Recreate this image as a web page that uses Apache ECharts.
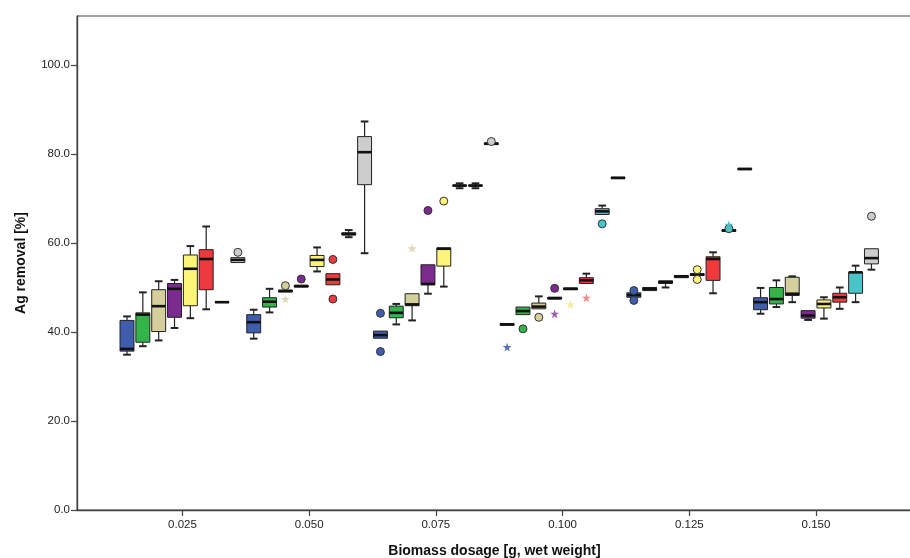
<!DOCTYPE html>
<html>
<head>
<meta charset="utf-8">
<style>
  html, body { margin: 0; padding: 0; background: #fff; }
  #chart { width: 910px; height: 558px; }
</style>
<script src="https://cdn.jsdelivr.net/npm/echarts@6/dist/echarts.min.js"></script>
</head>
<body>
<div id="chart"></div>
<script>
const dosages = [0.025, 0.05, 0.075, 0.1, 0.125, 0.15];
const xTickLabels = ['0.025', '0.050', '0.075', '0.100', '0.125', '0.150'];
const yTicks = [0, 20, 40, 60, 80, 100];

// five-number summaries per dosage: [lower whisker, Q1, median, Q3, upper whisker]
const boxBlue = [
  [34.9, 35.7, 36.2, 42.6, 43.5],
  [38.5, 39.8, 42.2, 43.9, 45.0],
  [38.5, 38.6, 39.3, 40.2, 40.2],
  [41.5, 41.5, 41.7, 41.9, 41.9],
  [47.8, 47.8, 48.3, 48.8, 48.8],
  [44.1, 45.0, 46.7, 47.7, 49.9]
];
const boxGreen = [
  [36.8, 37.7, 43.9, 44.3, 48.9],
  [44.4, 45.6, 46.8, 47.7, 49.7],
  [41.7, 43.2, 44.3, 45.8, 46.3],
  [43.9, 43.9, 44.7, 45.6, 45.6],
  [49.3, 49.3, 49.7, 50.0, 50.0],
  [45.6, 46.3, 47.4, 50.0, 51.6]
];
const boxTan = [
  [38.1, 40.1, 45.8, 49.5, 51.4],
  [49.0, 49.0, 49.2, 49.4, 49.4],
  [42.6, 45.9, 46.2, 48.6, 48.6],
  [45.2, 45.2, 45.7, 46.5, 48.0],
  [50.0, 50.9, 51.2, 51.5, 51.5],
  [46.7, 48.2, 48.6, 52.3, 52.5]
];
const boxPurple = [
  [40.9, 43.3, 49.7, 50.9, 51.7],
  [50.1, 50.1, 50.3, 50.5, 50.5],
  [48.6, 50.6, 50.8, 55.1, 55.1],
  [47.4, 47.4, 47.6, 47.8, 47.8],
  [52.2, 52.2, 52.5, 52.7, 52.7],
  [42.7, 43.1, 43.7, 44.8, 44.8]
];
const boxYellow = [
  [43.1, 45.9, 54.2, 57.3, 59.3],
  [53.6, 54.7, 56.2, 57.2, 59.0],
  [50.2, 54.8, 58.7, 58.9, 58.9],
  [49.5, 49.5, 49.7, 49.9, 49.9],
  [52.7, 52.7, 52.9, 53.1, 53.1],
  [43.0, 45.4, 46.3, 47.2, 47.8]
];
const boxRed = [
  [45.1, 49.5, 56.4, 58.5, 63.7],
  [50.6, 50.6, 51.8, 53.1, 53.1],
  [72.3, 72.8, 72.9, 73.0, 73.4],
  [50.9, 50.9, 51.6, 52.2, 53.1],
  [48.7, 51.6, 56.4, 56.9, 57.9],
  [45.2, 46.7, 47.8, 48.7, 50.0]
];
const boxCyan = [
  [46.6, 46.6, 46.7, 46.8, 46.8],
  [61.3, 61.8, 62.0, 62.3, 62.9],
  [72.3, 72.8, 72.9, 73.0, 73.4],
  [66.4, 66.4, 67.1, 67.7, 68.4],
  [62.6, 62.6, 62.8, 63.0, 63.0],
  [46.7, 48.7, 53.4, 53.4, 54.9]
];
const boxGray = [
  [55.6, 55.6, 56.2, 56.7, 56.7],
  [57.7, 73.1, 80.4, 83.9, 87.3],
  [82.1, 82.1, 82.3, 82.5, 82.5],
  [74.5, 74.5, 74.6, 74.8, 74.8],
  [76.5, 76.5, 76.6, 76.8, 76.8],
  [54.0, 55.3, 56.6, 58.7, 58.7]
];

// outliers: [dosage index, cluster index, value]
const outlierCircles = [
  [0, 7, 57.9],
  [1, 2, 50.4], [1, 3, 51.9], [1, 5, 56.3], [1, 5, 47.4],
  [2, 0, 44.2], [2, 0, 35.6], [2, 3, 67.3], [2, 4, 69.4], [2, 7, 82.8],
  [3, 1, 40.7], [3, 2, 43.3], [3, 3, 49.8], [3, 6, 64.3],
  [4, 0, 49.3], [4, 0, 47.1], [4, 4, 54.0], [4, 4, 51.8], [4, 6, 63.2],
  [5, 7, 66.0]
];
const outlierStars = [
  [1, 2, 47.4], [2, 2, 58.8], [3, 0, 36.6], [3, 3, 44.1],
  [3, 4, 46.2], [3, 5, 47.7], [4, 6, 64.1]
];

const boxSets = [boxBlue, boxGreen, boxTan, boxPurple, boxYellow, boxRed, boxCyan, boxGray];
const palette = ['#3f5cad', '#33b34a', '#d5cf9b', '#7b2b8e', '#fdf57a', '#ee3a3d', '#4bc4c8', '#cdcdcd'];
const starPalette = ['#5a70bd', '#66c070', '#dcd8b8', '#9a5cae', '#f3ec9a', '#f08a8a', '#4fbcc0', '#c0c0c0'];

const slot = 0.025 / 8;
const xPos = (g, i) => dosages[g] + (i - 3.5) * slot;

const boxData = [];
boxSets.forEach((set, i) => {
  set.forEach((s, g) => {
    boxData.push([xPos(g, i), s[0], s[1], s[2], s[3], s[4], i]);
  });
});
const circleData = outlierCircles.map(o => [xPos(o[0], o[1]), o[2], o[1]]);
const starData = outlierStars.map(o => [xPos(o[0], o[1]), o[2], o[1]]);

const starPath = 'path://M50,0 L61,35 L98,35 L68,57 L79,91 L50,70 L21,91 L32,57 L2,35 L39,35 Z';

function renderBox(params, api) {
  const x = api.value(0);
  const half = api.size([slot, 0])[0] * 0.44;
  const cap = half * 0.55;
  const pWb = api.coord([x, api.value(1)]);
  const pQ1 = api.coord([x, api.value(2)]);
  const pMed = api.coord([x, api.value(3)]);
  const pQ3 = api.coord([x, api.value(4)]);
  const pWt = api.coord([x, api.value(5)]);
  const cx = pMed[0];
  const line = { stroke: '#222', lineWidth: 1.2 };
  const children = [];
  if (pWb[1] - pQ1[1] > 0.5) {
    children.push({ type: 'line', shape: { x1: cx, y1: pQ1[1], x2: cx, y2: pWb[1] }, style: line });
    children.push({ type: 'line', shape: { x1: cx - cap, y1: pWb[1], x2: cx + cap, y2: pWb[1] }, style: { stroke: '#222', lineWidth: 2 } });
  }
  if (pQ3[1] - pWt[1] > 0.5) {
    children.push({ type: 'line', shape: { x1: cx, y1: pQ3[1], x2: cx, y2: pWt[1] }, style: line });
    children.push({ type: 'line', shape: { x1: cx - cap, y1: pWt[1], x2: cx + cap, y2: pWt[1] }, style: { stroke: '#222', lineWidth: 2 } });
  }
  children.push({
    type: 'rect',
    shape: { x: cx - half, y: pQ3[1], width: half * 2, height: Math.max(pQ1[1] - pQ3[1], 0.5) },
    style: { fill: palette[api.value(6)], stroke: '#222', lineWidth: 1 }
  });
  children.push({ type: 'line', shape: { x1: cx - half, y1: pMed[1], x2: cx + half, y2: pMed[1] }, style: { stroke: '#111', lineWidth: 2.6 } });
  return { type: 'group', children: children };
}

const chart = echarts.init(document.getElementById('chart'));
const axisFont = { fontFamily: 'Liberation Sans, Arial, sans-serif', fontSize: 11.5, color: '#222' };
const nameFont = { fontFamily: 'Liberation Sans, Arial, sans-serif', fontSize: 14, fontWeight: 'bold', color: '#111' };

chart.setOption({
  animation: false,
  backgroundColor: '#fff',
  grid: {
    left: 77, right: -2, top: 16, bottom: 48,
    outerBoundsMode: 'none',
    show: true, borderColor: '#444', borderWidth: 1, backgroundColor: '#fff'
  },
  xAxis: {
    type: 'value',
    min: 0.004197,
    max: 0.16894,
    name: 'Biomass dosage [g, wet weight]',
    nameLocation: 'middle',
    nameGap: 34,
    nameTextStyle: nameFont,
    axisLine: { lineStyle: { color: '#444', width: 1.4 } },
    axisTick: { customValues: dosages, inside: false, length: 6, lineStyle: { color: '#444', width: 1.2 } },
    axisLabel: {
      customValues: dosages,
      margin: 9,
      ...axisFont,
      formatter: v => xTickLabels[dosages.findIndex(d => Math.abs(d - v) < 1e-6)]
    },
    splitLine: { show: false }
  },
  yAxis: {
    type: 'value',
    min: 0,
    max: 111,
    name: 'Ag removal [%]',
    nameLocation: 'middle',
    nameGap: 49,
    nameTextStyle: nameFont,
    axisLine: { show: true, lineStyle: { color: '#444', width: 1.4 } },
    axisTick: { show: true, inside: false, customValues: yTicks, length: 6, lineStyle: { color: '#444', width: 1.2 } },
    axisLabel: { customValues: yTicks, margin: 7, ...axisFont, formatter: v => v.toFixed(1) },
    splitLine: { show: false }
  },
  series: [
    {
      type: 'custom',
      renderItem: renderBox,
      encode: { x: 0, y: [1, 2, 3, 4, 5] },
      data: boxData,
      clip: true,
      z: 2
    },
    {
      type: 'scatter',
      data: circleData,
      symbol: 'circle',
      symbolSize: 8,
      itemStyle: { color: p => palette[p.data[2]], borderColor: '#333', borderWidth: 1, opacity: 1 },
      z: 3
    },
    {
      type: 'scatter',
      data: starData,
      symbol: starPath,
      symbolSize: 9,
      itemStyle: { color: p => starPalette[p.data[2]], opacity: 1 },
      z: 3
    }
  ]
});
</script>
</body>
</html>
